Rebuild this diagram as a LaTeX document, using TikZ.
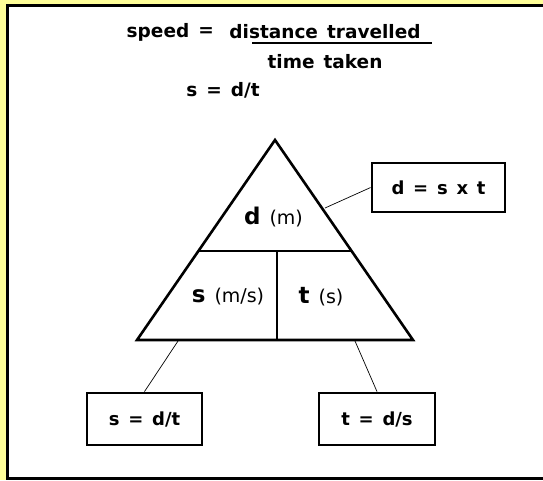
\documentclass[tikz,border=0pt]{standalone}
\usepackage{fontspec}
\setmainfont{DejaVu Sans}
\newfontfamily\wideff[WordSpace=1.4]{DejaVu Sans}
\definecolor{bgyellow}{HTML}{FFFF99}
\tikzset{
  eqbox/.style={draw, line width=2.8pt, fill=white, font=\wideff\fontsize{18}{20}\selectfont\bfseries, inner sep=0pt},
  thinline/.style={line width=0.7pt},
  tri/.style={line width=2.6pt, line join=miter},
  title/.style={font=\wideff\fontsize{18.5}{20}\selectfont\bfseries, inner sep=0pt},
  lab/.style={inner sep=0pt},
}
\newcommand{\bigv}[1]{{\fontsize{23}{25}\selectfont\bfseries #1}}
\newcommand{\unitv}[1]{{\fontsize{19}{21}\selectfont\mdseries #1}}
\begin{document}
\begin{tikzpicture}[x=1pt,y=-1pt]
\useasboundingbox (0,0) rectangle (543,480);
\clip (0,0) rectangle (543,480);
\fill[bgyellow] (0,0) rectangle (543,480);
\draw[line width=3pt, fill=white] (7.5,5.5) rectangle (560,478.5);

% title
\node[title] (speed) at (158,32) {speed};
\node[title] (eq) at (206,32) {=};
\node[title] (dist) at (325,32) {distance travelled};
\coordinate (ul1) at (252,43);
\coordinate (ul2) at (432,43);
\draw[line width=1.8pt] (ul1) -- (ul2);
\node[title] (time) at (325,62) {time taken};
\node[title] (sdt) at (223,90) {s = d/t};

% triangle
\coordinate (apex) at (275,140);
\coordinate (bl) at (137,340);
\coordinate (br) at (413,340);
\coordinate (ml) at (198.4,251);
\coordinate (mr) at (351.6,251);
\coordinate (mm) at (277,251);
\coordinate (bm) at (277,340);
\draw[tri] (apex) -- (br) -- (bl) -- cycle;
\draw[tri] (ml) -- (mr);
\draw[tri] (mm) -- (bm);

\node[lab] (dlab) at (273.5,217) {\bigv{d}\hspace{9pt}\unitv{(m)}};
\node[lab] (slab) at (228,297) {\bigv{s}\hspace{9pt}\unitv{(m/s)}};
\node[lab] (tlab) at (321,297) {\bigv{t}\hspace{9pt}\unitv{(s)}};

% boxes
\node[eqbox, minimum width=133pt, minimum height=49pt] (boxd) at (438.5,187.5) {d = s x t};
\node[eqbox, minimum width=115pt, minimum height=52pt] (boxs) at (144.5,419) {s = d/t};
\node[eqbox, minimum width=116pt, minimum height=52pt] (boxt) at (377,419) {t = d/s};

% connectors
\coordinate (cd) at (325,208);
\coordinate (cs) at (178,341);
\coordinate (ct) at (355,341);
\draw[thinline] (cd) -- (boxd.west);
\draw[thinline] (cs) -- (boxs.north);
\draw[thinline] (ct) -- (boxt.north);
\end{tikzpicture}
\end{document}
